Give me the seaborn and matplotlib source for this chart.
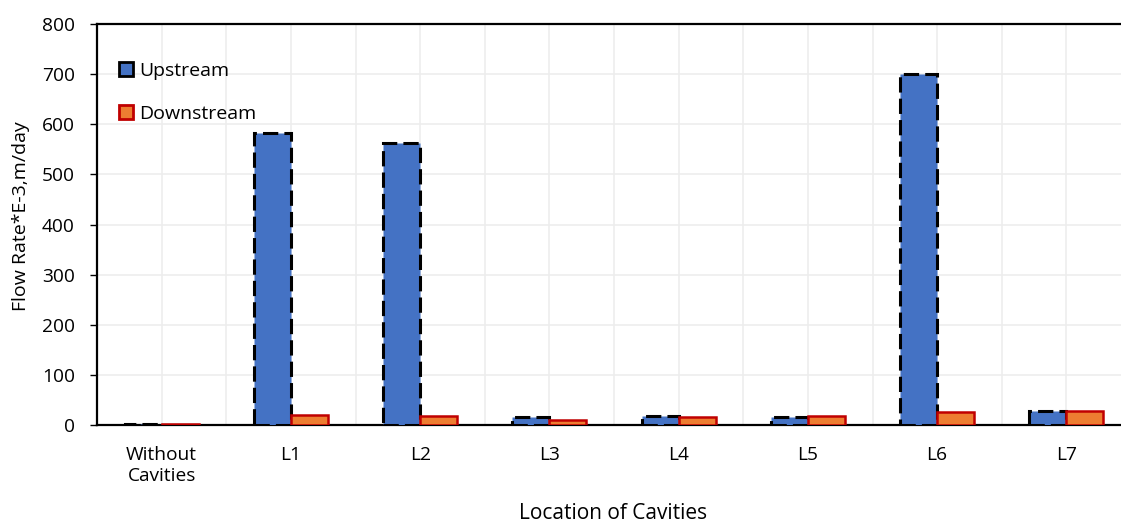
import matplotlib
matplotlib.use("Agg")
import matplotlib.pyplot as plt
from matplotlib.lines import Line2D
from matplotlib.ticker import MultipleLocator
import seaborn as sns
import pandas as pd

# Flow rates (x1e-3 m/day) for each cavity location
locations = ["Without\nCavities", "L1", "L2", "L3", "L4", "L5", "L6", "L7"]
upstream = [2, 582, 563, 16, 18, 15, 700, 27]
downstream = [2, 20, 18, 10, 16, 17, 25, 28]
series_names = ["Upstream", "Downstream"]

df = pd.DataFrame({
    "Location": locations * 2,
    "Flow": upstream + downstream,
    "Series": [series_names[0]] * len(locations) + [series_names[1]] * len(locations),
})

sns.set_theme(style="white")
plt.rcParams["font.family"] = ["Open Sans", "DejaVu Sans"]
plt.rcParams["text.color"] = "black"
plt.rcParams["axes.labelcolor"] = "black"
plt.rcParams["xtick.color"] = "black"
plt.rcParams["ytick.color"] = "black"

fig = plt.figure(figsize=(11.21, 5.24), dpi=100)
ax = fig.add_axes([97 / 1121, 1 - 425 / 524, (1131 - 97) / 1121, (425 - 24) / 524])

face = {"Upstream": "#4472C4", "Downstream": "#ED7D31"}
sns.barplot(data=df, x="Location", y="Flow", hue="Series", palette=face,
            saturation=1, width=0.572, gap=0, ax=ax, legend=False, zorder=3)

# edge styles: dashed black for upstream, solid red for downstream
for bar in ax.containers[0]:
    bar.set_edgecolor("black")
    bar.set_linewidth(2.2)
    bar.set_linestyle((0, (5, 2)))
for bar in ax.containers[1]:
    bar.set_edgecolor("#C00000")
    bar.set_linewidth(1.8)

ax.set_xlim(-0.5, 7.5)
ax.set_ylim(0, 800)
ax.yaxis.set_major_locator(MultipleLocator(100))
ax.xaxis.set_minor_locator(MultipleLocator(1.0, offset=0.5))

ax.grid(True, axis="y", color="#EDEDED", linewidth=1.2, zorder=0)
ax.grid(True, axis="x", which="both", color="#EDEDED", linewidth=1.2, zorder=0)
ax.set_axisbelow(True)

for side in ["left", "top", "bottom"]:
    ax.spines[side].set_visible(True)
    ax.spines[side].set_color("black")
    ax.spines[side].set_linewidth(1.6)
ax.spines["right"].set_visible(False)

ax.tick_params(axis="y", which="major", left=True, length=5, width=1, color="black",
               labelsize=13.8, pad=11)
ax.tick_params(axis="x", which="both", bottom=False, labelsize=13.8, pad=9)
for lbl in ax.get_xticklabels():
    lbl.set_linespacing(1.2)

ax.set_xlabel("Location of Cavities", fontsize=15)
ax.set_ylabel("Flow Rate*E-3,m/day", fontsize=14)
ax.xaxis.set_label_coords((613 - 97) / (1131 - 97), -(503 - 425) / 401)
ax.yaxis.set_label_coords(-(97 - 30) / (1131 - 97), (425 - 216) / 401)

handles = [
    Line2D([], [], linestyle="none", marker="s", markersize=10,
           markerfacecolor="#4472C4", markeredgecolor="black", markeredgewidth=2),
    Line2D([], [], linestyle="none", marker="s", markersize=10,
           markerfacecolor="#ED7D31", markeredgecolor="#C00000", markeredgewidth=2),
]
ax.legend(handles, series_names, loc="upper left", bbox_to_anchor=(0.002, 0.945),
          frameon=False, fontsize=14, labelspacing=1.3, handletextpad=0.05,
          handlelength=1.2, borderaxespad=0.4)

fig.savefig("out.png", dpi=100)
